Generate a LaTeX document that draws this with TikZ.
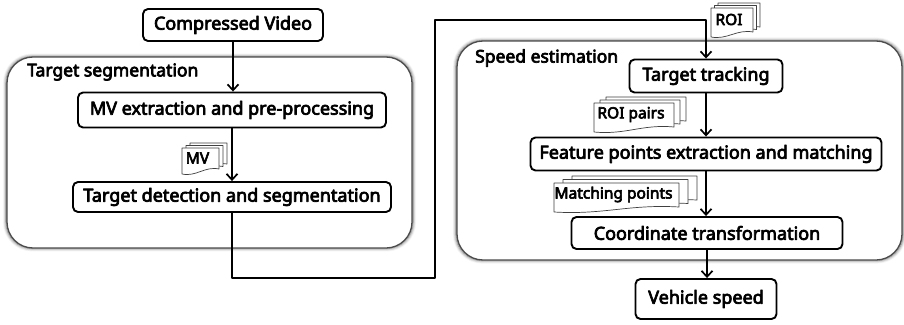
\documentclass[tikz,border=0pt]{standalone}
\usepackage{fontspec}
\setmainfont{Noto Sans}[FakeBold=4]
\usetikzlibrary{arrows.meta,shadows.blur}

\tikzset{
  proc/.style={draw, fill=white, rounded corners=5pt, line width=1.9pt, inner sep=0pt, font=\fontsize{18}{18}\selectfont},
  grp/.style={draw=black!70, fill=white, rounded corners=26pt, line width=1.3pt,
    blur shadow={shadow xshift=0pt, shadow yshift=0pt, shadow blur radius=3pt, shadow opacity=65, shadow scale=1.005}},
  grplbl/.style={anchor=west, inner sep=0pt, font=\fontsize{17.5}{17.5}\selectfont},
  flow/.style={line width=1.7pt, -{Straight Barb[length=6pt,width=11pt]}},
  page/.style={draw=black!75, fill=white, line width=0.7pt},
  doclbl/.style={inner sep=0pt, font=\fontsize{15.5}{15.5}\selectfont}
}

% one page of a document stack: left, top, right, bottom
\newcommand{\docpage}[4]{%
  \draw[page] ({#1},{#4}) -- ({#1},{#2}) -- ({#3},{#2}) -- ({#3},{#4-5})
    .. controls ({#3-0.4*(#3-#1)},{#4-8}) and ({#1+0.4*(#3-#1)},{#4+3}) .. ({#1},{#4}) -- cycle;}
% name, left, top, right, bottom, dx, dy, text
\newcommand{\docstack}[8]{%
  \foreach \k in {2,1,0}
    {\docpage{#2+\k*#6}{#3-\k*#7}{#4+\k*#6}{#5-\k*#7}}
  \node[doclbl] (#1) at ({(#2+#4)/2-3},{(#3+#5)/2-3}) {#8};}

\begin{document}
\begin{tikzpicture}[x=1pt, y=-1pt, line join=round]
  \useasboundingbox (0,0) rectangle (904,324);

  % groups
  \draw[grp] (7,57) rectangle (412,248);
  \draw[grp] (457,41) rectangle (902,260);
  \node[grplbl] (seglbl) at (27,72) {Target segmentation};
  \node[grplbl] (spdlbl) at (475,58) {Speed estimation};

  % left column
  \node[proc, minimum width=180pt, minimum height=32pt] (cv) at (233,25) {Compressed Video};
  \node[proc, minimum width=308pt, minimum height=35pt] (mvx) at (232,110) {MV extraction and pre-processing};
  \node[proc, minimum width=318pt, minimum height=30pt] (det) at (232,197) {Target detection and segmentation};

  % right column
  \node[proc, minimum width=153pt, minimum height=33pt] (trk) at (706,76) {Target tracking};
  \node[proc, minimum width=351pt, minimum height=33pt] (feat) at (706,154) {Feature points extraction and matching};
  \node[proc, minimum width=271pt, minimum height=32pt] (coord) at (707,233) {Coordinate transformation};
  \node[proc, minimum width=141pt, minimum height=40pt] (veh) at (706,299) {Vehicle speed};

  % connectors
  \draw[flow] (cv.south) -- (cv.south |- mvx.north);
  \draw[flow] (mvx.south) -- (mvx.south |- det.north);
  \coordinate (turnA) at (435,278);
  \coordinate (turnB) at (435,20);
  \draw[flow] (det.south) |- (turnA) -- (turnB) -| (trk.north);
  \draw[flow] (trk.south) -- (trk.south |- feat.north);
  \draw[flow] (feat.south) -- (feat.south |- coord.north);
  \draw[flow] (coord.south) -- (coord.south |- veh.north);

  % data stacks
  \docstack{mvdoc}{182}{148}{219}{174}{4}{2.5}{MV}
  \docstack{roidoc}{711}{8}{753}{37}{3.5}{2.5}{ROI}
  \docstack{pairdoc}{594}{103}{674}{132}{6}{3}{ROI pairs}
  \docstack{matchdoc}{554}{183}{679}{212}{9}{3.5}{Matching points}
\end{tikzpicture}
\end{document}
